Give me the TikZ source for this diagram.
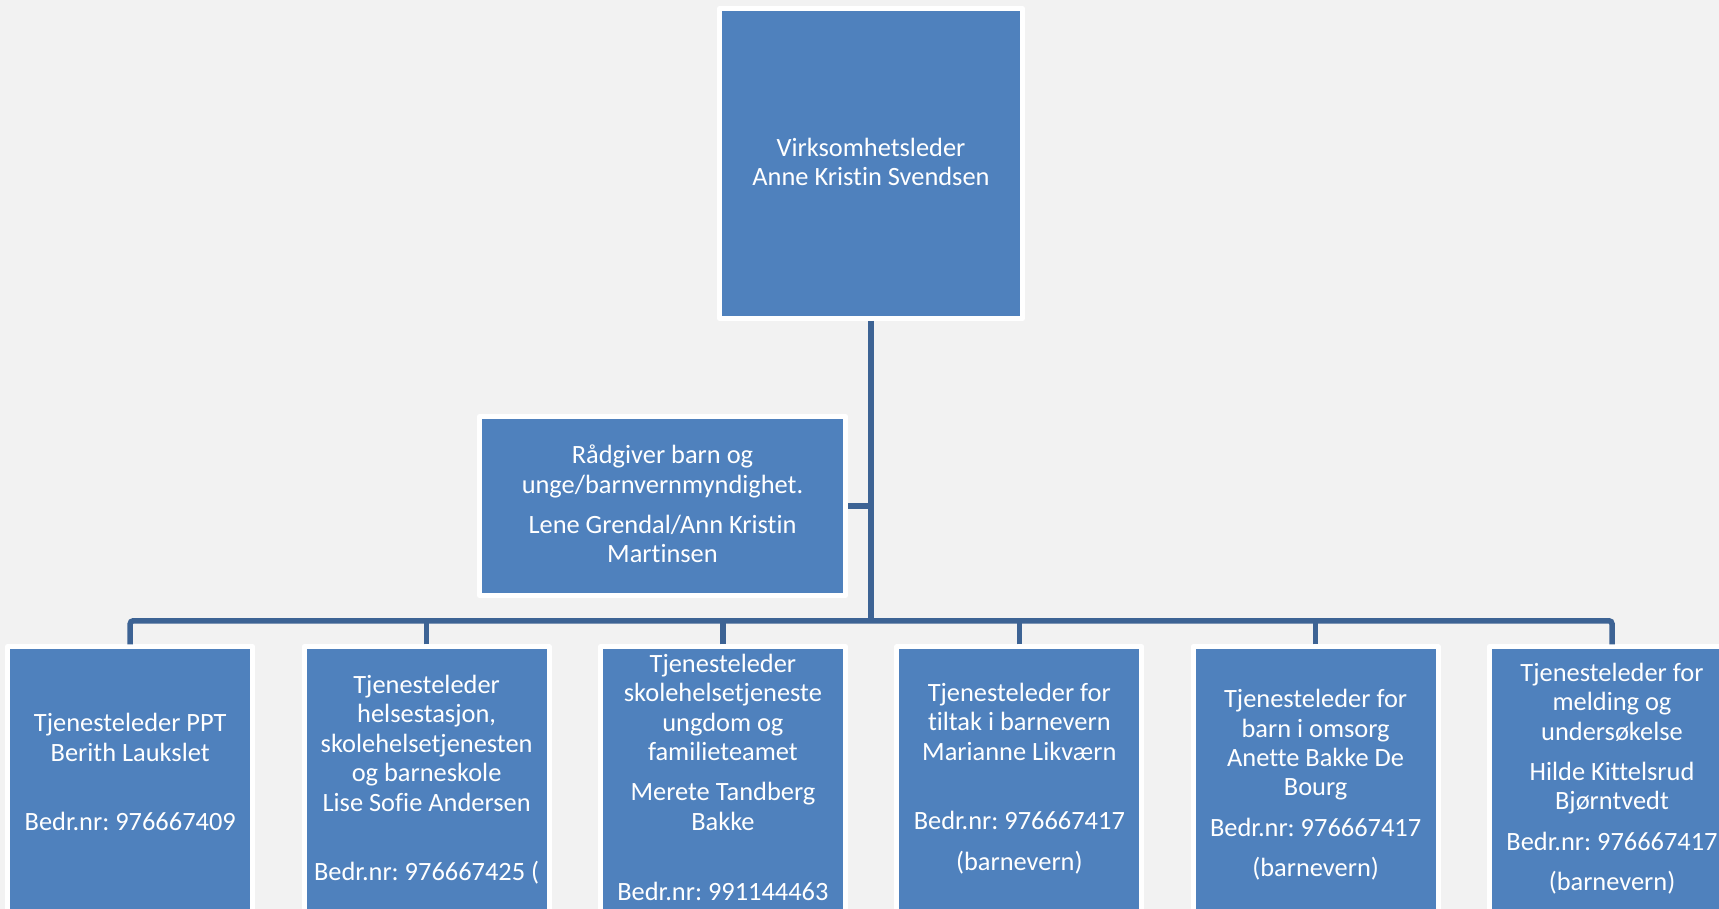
\documentclass[tikz,border=0pt]{standalone}
\usepackage{fontspec}
\setmainfont{Carlito}[Ligatures=NoCommon]
\frenchspacing
\usetikzlibrary{positioning,calc}
\definecolor{boxblue}{RGB}{79,129,189}
\definecolor{lineblue}{RGB}{61,99,148}
\definecolor{bggray}{RGB}{242,242,242}
\tikzset{
	orgbox/.style={rectangle, fill=boxblue, draw=white, line width=2.5pt, line join=round, inner sep=0pt},
	leaderbox/.style={orgbox, minimum width=151.5pt, minimum height=155pt},
	adviserbox/.style={orgbox, minimum width=183pt, minimum height=89.5pt},
	servicebox/.style={orgbox, minimum width=122.5pt, minimum height=160pt, anchor=north},
	boxtext/.style={text=white, font=\fontsize{13.2pt}{14.7pt}\selectfont\frenchspacing, align=center, anchor=base, inner sep=0pt},
	link/.style={draw=lineblue, line width=2.75pt},
}

\begin{document}
\begin{tikzpicture}[x=0.5pt,y=-0.5pt]
	\clip (0,0) rectangle (1719,909);
	\fill[bggray] (0,0) rectangle (1719,909);
	
	% leader and adviser
	\node[leaderbox] (lead) at (871,163.5) {};
	\node[adviserbox] (adv) at (662.5,506) {};
	\coordinate (bus) at (871,620.8);
	
	% service units
	\node[servicebox] (s1) at (130.2,644.3) {};
	\node[servicebox] (s2) at (426.6,644.3) {};
	\node[servicebox] (s3) at (722.9,644.3) {};
	\node[servicebox] (s4) at (1019.3,644.3) {};
	\node[servicebox] (s5) at (1315.6,644.3) {};
	\node[servicebox] (s6) at (1612,644.3) {};
	
	% texts (placed by the baseline of their last line)
	\node[boxtext] (leadtxt) at (871,185.5) {Virksomhetsleder\\Anne Kristin Svendsen};
	\node[boxtext] (advtxt) at (662.5,562.7) {Rådgiver barn og\\unge/barnvernmyndighet.\\[5.45pt]Lene Grendal/Ann Kristin\\Martinsen};
	\node[boxtext] (s1txt) at (130.2,830.7) {Tjenesteleder PPT\\Berith Laukslet\\[20.15pt]Bedr.nr: 976667409};
	\node[boxtext] (s2txt) at (426.6,880.7) {Tjenesteleder\\helsestasjon,\\skolehelsetjenesten\\og barneskole\\Lise Sofie Andersen\\[20.15pt]Bedr.nr: 976667425 (};
	\node[boxtext] (s3txt) at (722.9,900) {Tjenesteleder\\skolehelsetjeneste\\ungdom og\\familieteamet\\[5.45pt]Merete Tandberg\\Bakke\\[20.15pt]Bedr.nr: 991144463};
	\node[boxtext] (s4txt) at (1019.3,870) {Tjenesteleder for\\tiltak i barnevern\\Marianne Likværn\\[20.15pt]Bedr.nr: 976667417\\[5.45pt](barnevern)};
	\node[boxtext] (s5txt) at (1315.6,876.4) {Tjenesteleder for\\barn i omsorg\\Anette Bakke De\\Bourg\\[5.45pt]Bedr.nr: 976667417\\[5.45pt](barnevern)};
	\node[boxtext] (s6txt) at (1612,890.5) {Tjenesteleder for\\melding og\\undersøkelse\\[5.45pt]Hilde Kittelsrud\\Bjørntvedt\\[5.45pt]Bedr.nr: 976667417\\[5.45pt](barnevern)};
	
	% connectors
	\draw[link] (lead.south) -- (bus);
	\draw[link] (adv.east) -- (adv.east -| lead.south);
	\draw[link,rounded corners=1.5pt] (s1.north) |- (bus) -| (s6.north);
	\foreach \s in {s2,s3,s4,s5}
	\draw[link] (\s.north) -- (\s.north |- bus);
\end{tikzpicture}
\end{document}
